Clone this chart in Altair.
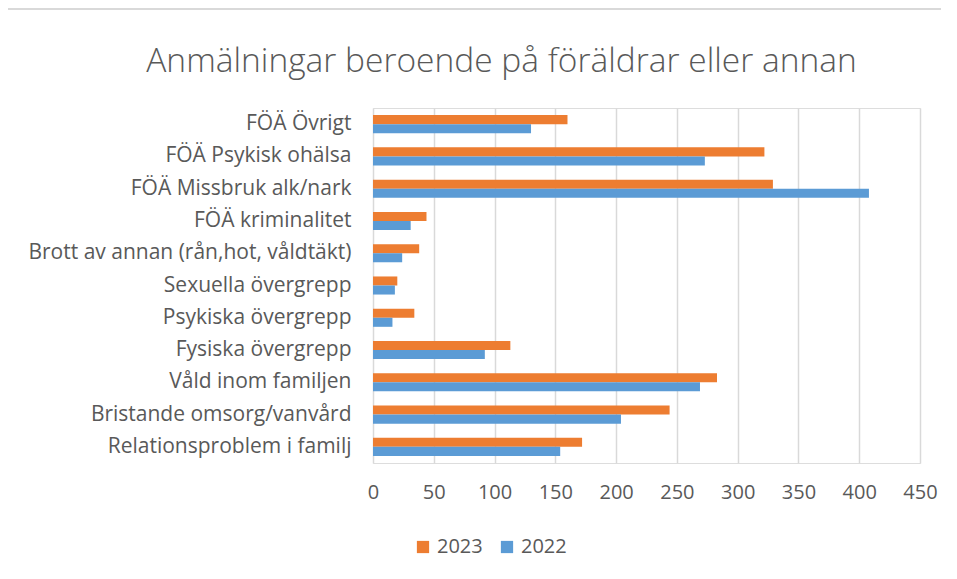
import altair as alt
import pandas as pd

categories = [
    "FÖÄ Övrigt",
    "FÖÄ Psykisk ohälsa",
    "FÖÄ Missbruk alk/nark",
    "FÖÄ kriminalitet",
    "Brott av annan (rån,hot, våldtäkt)",
    "Sexuella övergrepp",
    "Psykiska övergrepp",
    "Fysiska övergrepp",
    "Våld inom familjen",
    "Bristande omsorg/vanvård",
    "Relationsproblem i familj",
]
values_2023 = [160, 322, 329, 44, 38, 20, 34, 113, 283, 244, 172]
values_2022 = [130, 273, 408, 31, 24, 18, 16, 92, 269, 204, 154]
series = ["2023", "2022"]
colors = ["#ED7D31", "#5B9BD5"]
x_ticks = [0, 50, 100, 150, 200, 250, 300, 350, 400, 450]

rows = []
for c, a, b in zip(categories, values_2023, values_2022):
    rows.append({"kategori": c, "år": "2023", "antal": a})
    rows.append({"kategori": c, "år": "2022", "antal": b})
df = pd.DataFrame(rows)

FONT = "Open Sans"
GREY = "#595959"

bars = alt.Chart(df).mark_bar().encode(
    y=alt.Y("kategori:N", sort=categories, title=None,
            scale=alt.Scale(paddingInner=0.44, paddingOuter=0.22),
            axis=alt.Axis(ticks=False, domain=False, labelFontSize=21,
                          labelColor=GREY, labelFont=FONT, labelPadding=22,
                          labelLimit=400)),
    yOffset=alt.YOffset("år:N", sort=series),
    x=alt.X("antal:Q", title=None,
            scale=alt.Scale(domain=[0, 450], nice=False),
            axis=alt.Axis(values=x_ticks, ticks=False, domain=False,
                          labelFontSize=20, labelColor=GREY, labelFont=FONT,
                          labelPadding=19, labelFlush=False, grid=True,
                          gridColor="#d9d9d9", gridWidth=1.5)),
    color=alt.Color("år:N", sort=series,
                    scale=alt.Scale(domain=series, range=colors),
                    legend=alt.Legend(title=None, orient="none", direction="horizontal",
                                      legendX=40, legendY=429, symbolType="square",
                                      symbolSize=150, symbolStrokeWidth=0,
                                      labelFontSize=20, labelColor=GREY, labelFont=FONT,
                                      columnPadding=14, labelOffset=4, symbolOpacity=1)),
)

left_border = alt.Chart(df).mark_rule(color="#d9d9d9", strokeWidth=1.5).encode(
    x=alt.value(-366), y=alt.value(-99), y2=alt.value(455))
top_border = alt.Chart(df).mark_rule(color="#d9d9d9", strokeWidth=1.5).encode(
    x=alt.value(-366), x2=alt.value(568), y=alt.value(-99))

chart = alt.layer(bars, left_border, top_border).properties(
    width=547,
    height=355,
    title=alt.TitleParams("Anmälningar beroende på föräldrar eller annan",
                          fontSize=33.5, font=FONT, fontWeight=300, color=GREY,
                          anchor="middle", dx=-145, offset=-97,
                          baseline="alphabetic"),
    autosize=alt.AutoSizeParams(type="none"),
    padding={"left": 365, "top": 100, "right": 29, "bottom": 100},
).configure_view(stroke=None).configure(background="white")

chart.save("out.html", embed_options={"renderer": "svg", "actions": False})
